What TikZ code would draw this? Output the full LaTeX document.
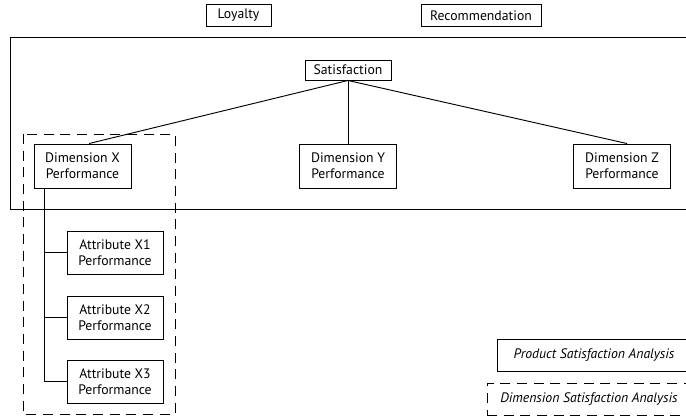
\documentclass[tikz,border=0pt]{standalone}
\usepackage{fontspec}
\setmainfont{PT Sans}
\begin{document}
\begin{tikzpicture}[x=0.75pt,y=-0.75pt,
  line width=0.7pt,
  every node/.style={font=\fontsize{10.3}{12}\selectfont},
  box/.style={draw, align=center, inner sep=0pt},
  dimbox/.style={box, minimum width=72.75pt, minimum height=33pt},
  attrbox/.style={box, minimum width=72pt, minimum height=32.25pt},
  dashbox/.style={draw, dash pattern=on 7.5pt off 5pt},
  link/.style={draw, line width=0.7pt},
  legendtext/.style={font=\fontsize{10.3}{12}\selectfont\itshape}]
\useasboundingbox (0,0) rectangle (686,418);
\clip (0,0) rectangle (686,418);

% outcome boxes above the product frame
\node[box, minimum width=48.75pt, minimum height=16.5pt] (loy) at (238.5,15.5) {Loyalty};
\node[box, minimum width=90pt, minimum height=16.5pt] (rec) at (481,15.5) {Recommendation};

% product satisfaction frame
\draw (10,37) rectangle (700,209);

% dimension frame
\draw[dashbox] (23,134) rectangle (175,414);

% hierarchy
\node[box, minimum width=64.5pt, minimum height=15pt] (sat) at (348,70) {Satisfaction};
\node[dimbox] (dx) at (82.5,166) {Dimension X\\Performance};
\node[dimbox] (dy) at (348,166) {Dimension Y\\Performance};
\node[dimbox] (dz) at (622,166) {Dimension Z\\Performance};

\node[attrbox] (a1) at (115,252.5) {Attribute X1\\Performance};
\node[attrbox] (a2) at (115,317.5) {Attribute X2\\Performance};
\node[attrbox] (a3) at (115,381.5) {Attribute X3\\Performance};

\draw[link] (sat.south) -- ([xshift=4.9pt]dx.north);
\draw[link] (sat.south) -- (dy.north);
\draw[link] (sat.south) -- ([xshift=3.75pt]dz.north);

\coordinate (trunk) at ([xshift=8.25pt]dx.south west);
\draw[link] (trunk) |- (a3.west);
\draw[link] (a1.west) -- (a1.west -| trunk);
\draw[link] (a2.west) -- (a2.west -| trunk);

% legend
\node[box, minimum width=145.5pt, minimum height=24pt, legendtext] (lp) at (594,355) {Product Satisfaction Analysis};
\node[dashbox, minimum width=153pt, minimum height=24pt, inner sep=0pt, legendtext] (ld) at (589,399) {Dimension Satisfaction Analysis};
\end{tikzpicture}
\end{document}
